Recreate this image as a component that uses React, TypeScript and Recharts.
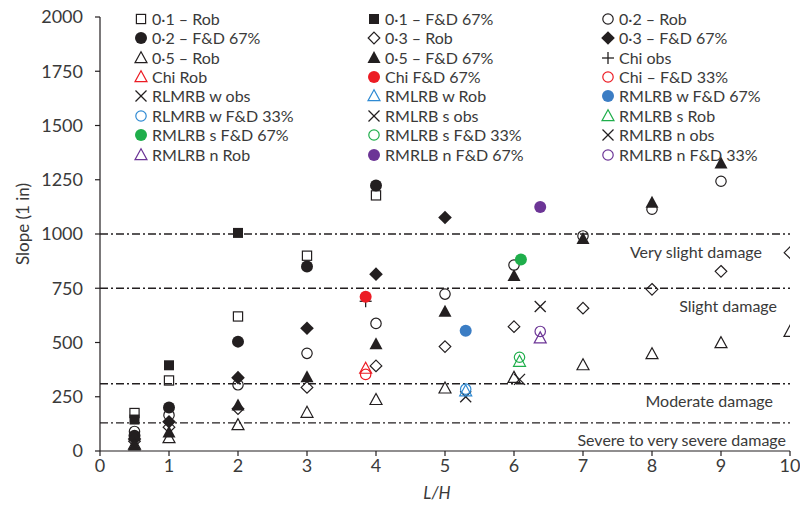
import React from 'react';
import { ScatterChart, Scatter, XAxis, YAxis, ReferenceLine, Label } from 'recharts';

// ---------- data (L/H, slope 1 in ...) ----------
const s01Rob = [[0.5, 175], [1, 325], [2, 620], [3, 900], [4, 1178]];
const s01FD67 = [[0.5, 145], [1, 395], [2, 1005]];
const s02Rob = [[0.5, 90], [1, 165], [2, 305], [3, 450], [4, 588], [5, 723], [6, 857], [7, 991], [8, 1114], [9, 1243]];
const s02FD67 = [[0.5, 70], [1, 200], [2, 504], [3, 850], [4, 1223]];
const s03Rob = [[0.5, 45], [1, 110], [2, 195], [3, 293], [4, 392], [5, 481], [6, 573], [7, 658], [8, 745], [9, 828], [10, 914]];
const s03FD67 = [[0.5, 55], [1, 135], [2, 338], [3, 566], [4, 815], [5, 1076]];
const s05Rob = [[0.5, 30], [1, 60], [2, 120], [3, 177], [4, 236], [5, 289], [6, 338], [7, 396], [8, 447], [9, 498], [10, 550]];
const s05FD67 = [[0.5, 25], [1, 85], [2, 210], [3, 340], [4, 492], [5, 642], [6, 806], [7, 977], [8, 1144], [9, 1325]];
const chiObs = [[3.85, 690]];
const chiRob = [[3.85, 380]];
const chiFD67 = [[3.85, 711]];
const chiFD33 = [[3.85, 353]];
const wObs = [[5.3, 250]];
const wRob = [[5.3, 276]];
const wFD67 = [[5.3, 554]];
const wFD33 = [[5.3, 285]];
const sObs = [[6.08, 330]];
const sRob = [[6.08, 412]];
const sFD67 = [[6.1, 882]];
const sFD33 = [[6.08, 432]];
const nObs = [[6.38, 666]];
const nRob = [[6.38, 520]];
const nFD67 = [[6.38, 1124]];
const nFD33 = [[6.38, 551]];

const xTicks = [0, 1, 2, 3, 4, 5, 6, 7, 8, 9, 10];
const yTicks = [0, 250, 500, 750, 1000, 1250, 1500, 1750, 2000];

const damageLines = [
  { y: 1000, label: 'Very slight damage', right: 28 },
  { y: 750, label: 'Slight damage', right: 13 },
  { y: 310, label: 'Moderate damage', right: 17 },
  { y: 130, label: 'Severe to very severe damage', right: 4 },
];

const BLACK = '#231f20';
const RED = '#ec1c24';
const BLUE = '#3b7dc4';
const BLUE_OPEN = '#2f8ad3';
const GREEN = '#1fae4b';
const PURPLE = '#6c3596';

type Kind = 'circle' | 'square' | 'triangle' | 'diamond' | 'cross' | 'plus';

const series: { name: string; data: number[][]; kind: Kind; color: string; filled: boolean }[] = [
  { name: '0·1 – Rob', data: s01Rob, kind: 'square', color: BLACK, filled: false },
  { name: '0·1 – F&D 67%', data: s01FD67, kind: 'square', color: BLACK, filled: true },
  { name: '0·2 – Rob', data: s02Rob, kind: 'circle', color: BLACK, filled: false },
  { name: '0·2 – F&D 67%', data: s02FD67, kind: 'circle', color: BLACK, filled: true },
  { name: '0·3 – Rob', data: s03Rob, kind: 'diamond', color: BLACK, filled: false },
  { name: '0·3 – F&D 67%', data: s03FD67, kind: 'diamond', color: BLACK, filled: true },
  { name: '0·5 – Rob', data: s05Rob, kind: 'triangle', color: BLACK, filled: false },
  { name: '0·5 – F&D 67%', data: s05FD67, kind: 'triangle', color: BLACK, filled: true },
  { name: 'Chi obs', data: chiObs, kind: 'plus', color: BLACK, filled: false },
  { name: 'Chi Rob', data: chiRob, kind: 'triangle', color: RED, filled: false },
  { name: 'Chi F&D 67%', data: chiFD67, kind: 'circle', color: RED, filled: true },
  { name: 'Chi – F&D 33%', data: chiFD33, kind: 'circle', color: RED, filled: false },
  { name: 'RLMRB w obs', data: wObs, kind: 'cross', color: BLACK, filled: false },
  { name: 'RMLRB w Rob', data: wRob, kind: 'triangle', color: BLUE_OPEN, filled: false },
  { name: 'RMLRB w F&D 67%', data: wFD67, kind: 'circle', color: BLUE, filled: true },
  { name: 'RLMRB w F&D 33%', data: wFD33, kind: 'circle', color: BLUE_OPEN, filled: false },
  { name: 'RMLRB s obs', data: sObs, kind: 'cross', color: BLACK, filled: false },
  { name: 'RMLRB s Rob', data: sRob, kind: 'triangle', color: GREEN, filled: false },
  { name: 'RMLRB s F&D 67%', data: sFD67, kind: 'circle', color: GREEN, filled: true },
  { name: 'RMLRB s F&D 33%', data: sFD33, kind: 'circle', color: GREEN, filled: false },
  { name: 'RMLRB n obs', data: nObs, kind: 'cross', color: BLACK, filled: false },
  { name: 'RMLRB n Rob', data: nRob, kind: 'triangle', color: PURPLE, filled: false },
  { name: 'RMRLB n F&D 67%', data: nFD67, kind: 'circle', color: PURPLE, filled: true },
  { name: 'RMLRB n F&D 33%', data: nFD33, kind: 'circle', color: PURPLE, filled: false },
];

const FONT = 'Lato, "Open Sans", sans-serif';
const TEXT = '#3a3a3a';

function Marker({ cx, cy, kind, color, filled }: { cx: number; cy: number; kind: Kind; color: string; filled: boolean }) {
  const fill = filled ? color : 'none';
  const sw = 1.2;
  switch (kind) {
    case 'circle':
      return filled ? <circle cx={cx} cy={cy} r={6} fill={color} /> : <circle cx={cx} cy={cy} r={5.2} fill="none" stroke={color} strokeWidth={sw} />;
    case 'square':
      return filled ? <rect x={cx - 5} y={cy - 5} width={10} height={10} fill={color} /> : <rect x={cx - 4.6} y={cy - 4.6} width={9.2} height={9.2} fill="none" stroke={color} strokeWidth={sw} />;
    case 'triangle': {
      const pts = filled
        ? `${cx},${cy - 7} ${cx - 6.5},${cy + 5} ${cx + 6.5},${cy + 5}`
        : `${cx},${cy - 6.3} ${cx - 6},${cy + 4.7} ${cx + 6},${cy + 4.7}`;
      return <polygon points={pts} fill={fill} stroke={filled ? 'none' : color} strokeWidth={sw} strokeLinejoin="miter" />;
    }
    case 'diamond': {
      const r = filled ? 6.8 : 5.8;
      return <polygon points={`${cx},${cy - r} ${cx + r},${cy} ${cx},${cy + r} ${cx - r},${cy}`} fill={fill} stroke={filled ? 'none' : color} strokeWidth={sw} />;
    }
    case 'cross':
      return (
        <g stroke={color} strokeWidth={1.3}>
          <line x1={cx - 5.5} y1={cy - 5.5} x2={cx + 5.5} y2={cy + 5.5} />
          <line x1={cx - 5.5} y1={cy + 5.5} x2={cx + 5.5} y2={cy - 5.5} />
        </g>
      );
    case 'plus':
      return (
        <g stroke={color} strokeWidth={1.3}>
          <line x1={cx - 6} y1={cy} x2={cx + 6} y2={cy} />
          <line x1={cx} y1={cy - 6} x2={cx} y2={cy + 6} />
        </g>
      );
  }
  return null;
}

const legendCols = [141, 374, 608];
const legendRow0 = 18.7;
const legendRowGap = 19.43;

function LegendOverlay() {
  return (
    <div style={{ position: 'absolute', left: 0, top: 0, width: 800, height: 170, pointerEvents: 'none' }}>
      {series.map((s, i) => {
        const col = i % 3;
        const row = Math.floor(i / 3);
        const cx = legendCols[col];
        const cy = legendRow0 + row * legendRowGap;
        return (
          <div key={s.name} style={{ position: 'absolute', left: cx - 8, top: cy - 9, height: 18, display: 'flex', alignItems: 'center', whiteSpace: 'nowrap' }}>
            <svg width={16} height={18} style={{ display: 'block' }}>
              <Marker cx={8} cy={9} kind={s.kind} color={s.color} filled={s.filled} />
            </svg>
            <span style={{ fontFamily: FONT, fontSize: 16, color: TEXT, marginLeft: 3, lineHeight: '18px' }}>{s.name}</span>
          </div>
        );
      })}
    </div>
  );
}

export default function App() {
  return (
    <div style={{ position: 'absolute', left: 0, top: 0, width: 800, height: 511, background: '#fff', fontFamily: FONT }}>
      <ScatterChart width={800} height={511} margin={{ top: 17, right: 10, bottom: 0, left: 0 }}>
        <XAxis
          type="number"
          dataKey="x"
          domain={[0, 10]}
          ticks={xTicks}
          interval={0}
          tickSize={5}
          tickMargin={3}
          height={60}
          allowDataOverflow
          stroke={BLACK}
          strokeWidth={1.2}
          tick={{ fill: TEXT, fontSize: 18, fontFamily: FONT }}
        >
          <Label
            content={({ viewBox }: any) => (
              <text x={viewBox.x + viewBox.width / 2 - 8} y={499} textAnchor="middle" fontStyle="italic" fontSize={17} fill={TEXT} fontFamily={FONT}>
                L/H
              </text>
            )}
          />
        </XAxis>
        <YAxis
          type="number"
          dataKey="y"
          domain={[0, 2000]}
          ticks={yTicks}
          interval={0}
          tickSize={5}
          tickMargin={12}
          width={100}
          allowDataOverflow
          stroke={BLACK}
          strokeWidth={1.2}
          tick={{ fill: TEXT, fontSize: 18, fontFamily: FONT }}
        >
          <Label
            content={() => (
              <text x={22} y={224} transform="rotate(-90 22 224)" textAnchor="middle" dominantBaseline="central" fontSize={17} fill={TEXT} fontFamily={FONT}>
                Slope (1 in)
              </text>
            )}
          />
        </YAxis>
        {damageLines.map((d) => (
          <ReferenceLine
            key={d.label}
            y={d.y}
            stroke={BLACK}
            strokeWidth={1.3}
            strokeDasharray="8 3 2 3"
            label={{
              content: ({ viewBox }: any) => (
                <text x={viewBox.x + viewBox.width - d.right} y={viewBox.y + 17} textAnchor="end" dominantBaseline="central" fontSize={16} fill={TEXT} fontFamily={FONT}>
                  {d.label}
                </text>
              ),
            }}
          />
        ))}
        {series.map((s) => (
          <Scatter
            key={s.name}
            name={s.name}
            data={s.data.map(([x, y]) => ({ x, y }))}
            isAnimationActive={false}
            shape={(p: any) => <Marker cx={p.cx} cy={p.cy} kind={s.kind} color={s.color} filled={s.filled} />}
          />
        ))}
      </ScatterChart>
      <LegendOverlay />
    </div>
  );
}
